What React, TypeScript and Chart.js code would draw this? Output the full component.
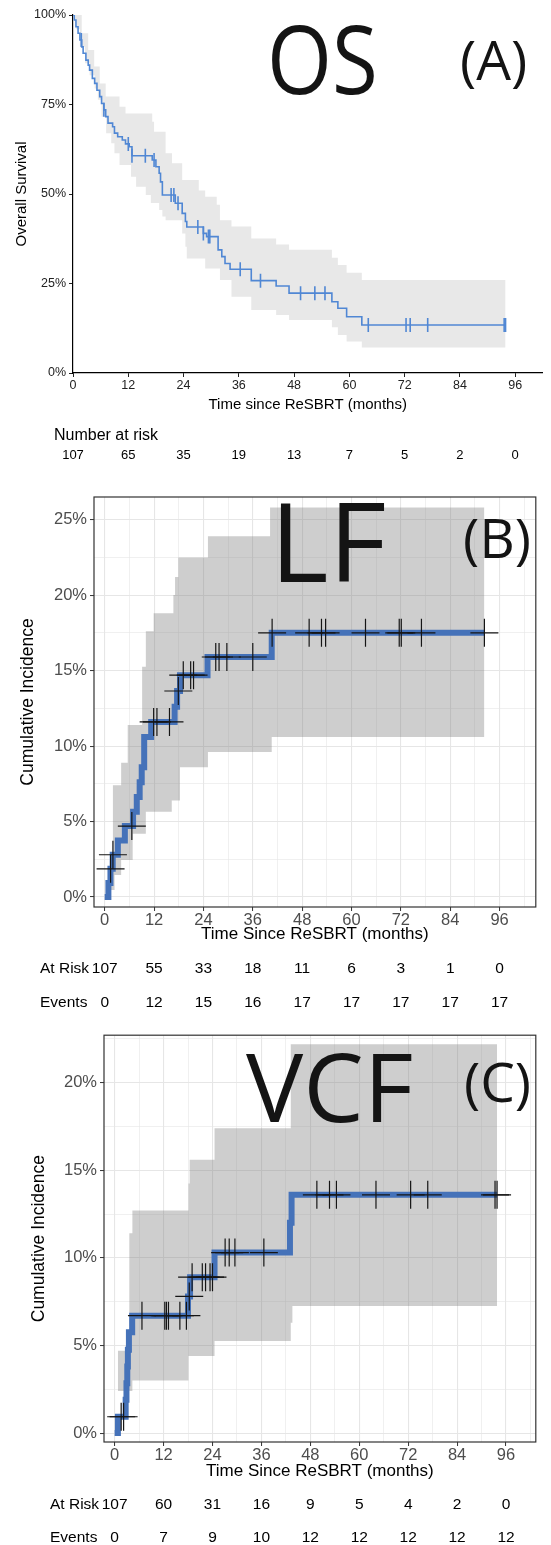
import React, { useEffect, useRef } from 'react';
import { Chart, registerables } from 'chart.js';

Chart.register(...registerables);
Chart.defaults.font.family = "'Liberation Sans', Arial, Helvetica, sans-serif";

// ================= DATA =================
// shared axis breaks
const monthTicks = [0, 12, 24, 36, 48, 60, 72, 84, 96];
const monthGrid = [0, 6, 12, 18, 24, 30, 36, 42, 48, 54, 60, 66, 72, 78, 84, 90, 96, 102];

// ---- Panel A: overall survival (Kaplan-Meier) ----
const osTime = [0, 0.3, 0.64, 1.1, 1.5, 1.9, 2.2, 2.8, 3.3, 3.6, 4.2, 4.7, 5.2, 5.8, 6.2, 6.7, 7.1, 7.6, 8.6, 9.0, 9.7, 10.7, 11.4, 12.2, 12.8, 17.2, 18.0, 18.7, 19.0, 19.4, 22.2, 23.7, 24.4, 24.7, 28.3, 29.0, 31.5, 32.3, 33.0, 34.1, 38.7, 44.1, 46.9, 56.2, 57.5, 59.4, 62.7, 93.9];
const osSurv = [1.0, 0.986, 0.967, 0.949, 0.93, 0.911, 0.893, 0.874, 0.86, 0.846, 0.823, 0.809, 0.79, 0.772, 0.753, 0.735, 0.716, 0.698, 0.688, 0.67, 0.66, 0.651, 0.64, 0.632, 0.607, 0.595, 0.576, 0.558, 0.534, 0.497, 0.474, 0.446, 0.423, 0.408, 0.39, 0.381, 0.344, 0.325, 0.306, 0.29, 0.258, 0.243, 0.223, 0.199, 0.181, 0.157, 0.134, 0.134];
const osCensT = [1.8, 6.7, 12.0, 12.8, 15.7, 17.6, 21.3, 21.9, 22.8, 27.1, 28.3, 29.4, 29.7, 36.3, 40.7, 49.4, 52.5, 54.7, 64.1, 72.3, 73.2, 77.0, 93.6, 93.9];
const osUpT = [0, 1.9, 3.3, 4.6, 5.8, 7.1, 10.1, 11.4, 17.2, 17.6, 20.1, 21.5, 23.7, 27.3, 28.7, 31.2, 31.9, 34.4, 38.7, 44.1, 46.9, 56.2, 57.5, 59.4, 62.7, 93.9];
const osUp = [1.0, 0.949, 0.902, 0.856, 0.809, 0.772, 0.744, 0.725, 0.702, 0.674, 0.614, 0.586, 0.539, 0.51, 0.492, 0.47, 0.427, 0.409, 0.376, 0.359, 0.344, 0.322, 0.302, 0.28, 0.26, 0.26];
const osLoT = [0, 0.6, 1.5, 2.6, 3.6, 4.7, 5.4, 6.2, 7.2, 8.3, 9.0, 10.1, 12.6, 13.7, 15.8, 16.9, 18.7, 19.4, 20.1, 23.7, 24.4, 24.7, 28.7, 31.9, 34.4, 38.7, 44.1, 46.9, 56.2, 57.5, 59.4, 62.7, 93.9];
const osLo = [1.0, 0.96, 0.911, 0.865, 0.832, 0.795, 0.763, 0.716, 0.67, 0.642, 0.614, 0.581, 0.548, 0.52, 0.497, 0.475, 0.455, 0.437, 0.427, 0.39, 0.353, 0.32, 0.292, 0.26, 0.213, 0.176, 0.162, 0.148, 0.128, 0.106, 0.088, 0.071, 0.071];
const osPctTicks = [0, 0.25, 0.5, 0.75, 1];
const osRisk = [107, 65, 35, 19, 13, 7, 5, 2, 0];

// ---- Panel B: local failure (cumulative incidence, %) ----
const lfTime = [0, 0.9, 1.4, 1.95, 3.2, 4.9, 6.9, 7.8, 8.5, 9.0, 9.6, 11.3, 17.0, 17.6, 18.3, 25.0, 40.6, 92.3];
const lfInc = [0, 0.93, 1.87, 2.8, 3.74, 4.7, 5.65, 6.62, 7.6, 8.6, 10.6, 11.6, 12.6, 13.65, 14.7, 15.9, 17.5, 17.5];
const lfCensT = [1.43, 2.0, 6.6, 11.9, 12.7, 15.75, 17.9, 19.1, 20.9, 21.6, 27.0, 27.8, 29.7, 36.0, 40.7, 49.7, 52.7, 53.7, 63.4, 71.6, 72.1, 77.0, 92.3];
const lfUpT = [1.2, 2.0, 4.0, 5.6, 9.1, 10.0, 11.9, 16.7, 17.1, 17.9, 25.1, 40.2, 92.3];
const lfUp = [2.4, 7.4, 8.9, 11.4, 15.25, 17.6, 18.8, 20.0, 21.2, 22.5, 23.9, 25.8, 25.8];
const lfLoT = [1.2, 2.4, 4.0, 6.8, 10.0, 16.3, 18.3, 25.1, 40.6, 92.3];
const lfLo = [0.46, 1.46, 2.45, 4.2, 5.65, 6.4, 8.6, 9.6, 10.6, 10.6];
const lfPctTicks = [0, 5, 10, 15, 20, 25];
const lfPctGrid = [0, 2.5, 5, 7.5, 10, 12.5, 15, 17.5, 20, 22.5, 25];
const lfAtRisk = [107, 55, 33, 18, 11, 6, 3, 1, 0];
const lfEvents = [0, 12, 15, 16, 17, 17, 17, 17, 17];

// ---- Panel C: vertebral compression fracture (cumulative incidence, %) ----
const vcfTime = [0, 0.8, 2.7, 2.9, 3.1, 3.25, 3.5, 4.3, 18.0, 18.5, 24.5, 43.0, 43.4, 93.8];
const vcfInc = [0, 0.93, 1.9, 2.85, 3.8, 4.75, 5.75, 6.7, 7.8, 8.9, 10.3, 12.0, 13.6, 13.6];
const vcfCensT = [1.6, 2.2, 6.7, 12.3, 12.7, 13.2, 16.0, 17.6, 18.3, 19.0, 21.5, 22.3, 23.4, 24.0, 27.1, 28.1, 29.5, 36.6, 49.6, 52.7, 54.4, 64.1, 72.6, 76.8, 93.3, 93.8];
const vcfUpT = [0.8, 3.6, 4.35, 18.1, 18.4, 24.5, 43.2, 93.8];
const vcfUp = [4.7, 11.4, 12.7, 14.25, 15.6, 17.4, 22.2, 22.2];
const vcfLoT = [0.8, 4.35, 18.1, 24.5, 43.2, 43.6, 93.8];
const vcfLo = [2.4, 3.0, 4.4, 5.25, 6.3, 7.25, 7.25];
const vcfPctTicks = [0, 5, 10, 15, 20];
const vcfPctGrid = [0, 2.5, 5, 7.5, 10, 12.5, 15, 17.5, 20, 22.5];
const vcfAtRisk = [107, 60, 31, 16, 9, 5, 4, 2, 0];
const vcfEvents = [0, 7, 9, 10, 12, 12, 12, 12, 12];

// ================= HELPERS =================
type XY = { x: number; y: number };

function stepAt(ts: number[], vs: number[], t: number): number {
  let v = vs[0];
  for (let i = 0; i < ts.length; i++) if (ts[i] <= t) v = vs[i];
  return v;
}
function toXY(ts: number[], vs: number[]): XY[] {
  return ts.map((t, i) => ({ x: t, y: vs[i] }));
}
function bandXY(upT: number[], up: number[], loT: number[], lo: number[]) {
  const ts = Array.from(new Set([...upT, ...loT])).sort((a, b) => a - b);
  return {
    upper: ts.map((t) => ({ x: t, y: stepAt(upT, up, t) })),
    lower: ts.map((t) => ({ x: t, y: stepAt(loT, lo, t) })),
  };
}

const OS_BLUE = '#5087d4';
const CI_BLUE = '#4572b9';
const CLEAR = 'rgba(0,0,0,0)';

type RiskRow = { label: string; values: number[]; y: number; size: number };

function riskPlugin(rows: RiskRow[], times: number[], labelX: number) {
  return {
    id: 'riskTable',
    afterDraw(chart: any) {
      const ctx = chart.ctx;
      const xs = chart.scales.x;
      ctx.save();
      ctx.fillStyle = '#000';
      ctx.textBaseline = 'middle';
      rows.forEach((r) => {
        ctx.font = `${r.size}px 'Liberation Sans', Arial, sans-serif`;
        if (r.label) {
          ctx.textAlign = 'left';
          ctx.fillText(r.label, labelX, r.y);
        }
        ctx.textAlign = 'center';
        r.values.forEach((v, i) => ctx.fillText(String(v), xs.getPixelForValue(times[i]), r.y));
      });
      ctx.restore();
    },
  };
}

const panelBorder = {
  id: 'panelBorder',
  afterDatasetsDraw(chart: any) {
    const { ctx, chartArea } = chart;
    ctx.save();
    ctx.strokeStyle = '#333333';
    ctx.lineWidth = 1.2;
    ctx.strokeRect(chartArea.left, chartArea.top, chartArea.right - chartArea.left, chartArea.bottom - chartArea.top);
    ctx.restore();
  },
};

// ================= CONFIGS =================
function buildOS(): any {
  const band = bandXY(osUpT, osUp, osLoT, osLo);
  const censor = osCensT.map((t) => ({ x: t, y: stepAt(osTime, osSurv, t) }));
  return {
    type: 'line',
    data: {
      datasets: [
        { data: band.upper, stepped: true, borderWidth: 0, borderColor: CLEAR, pointRadius: 0, fill: '+1', backgroundColor: '#e8e8e8', order: 3 },
        { data: band.lower, stepped: true, borderWidth: 0, borderColor: CLEAR, pointRadius: 0, fill: false, order: 4 },
        { data: toXY(osTime, osSurv), stepped: true, borderColor: OS_BLUE, borderWidth: 1.6, pointRadius: 0, fill: false, order: 1 },
        { data: censor, showLine: false, pointStyle: 'line', pointRotation: 90, pointRadius: 7, pointBorderColor: OS_BLUE, pointBorderWidth: 1.6, borderColor: OS_BLUE, order: 0 },
      ],
    },
    options: {
      responsive: false,
      animation: false,
      events: [],
      layout: { padding: { top: 15, right: 3, bottom: 50, left: 0 } },
      plugins: { legend: { display: false }, tooltip: { enabled: false } },
      scales: {
        x: {
          type: 'linear', min: 0, max: 101.9,
          afterBuildTicks: (s: any) => { s.ticks = monthTicks.map((v) => ({ value: v })); },
          afterFit: (s: any) => { s.height = 47; },
          ticks: { autoSkip: false, maxRotation: 0, color: '#222', font: { size: 12.5 }, padding: 1 },
          grid: { drawOnChartArea: false, drawTicks: true, tickLength: 4, tickColor: '#222', tickWidth: 1 },
          border: { display: true, color: '#000', width: 1.2 },
          title: { display: true, text: 'Time since ReSBRT (months)', color: '#000', font: { size: 15 }, padding: { top: 0, bottom: 6 } },
        },
        y: {
          type: 'linear', min: 0, max: 1,
          afterBuildTicks: (s: any) => { s.ticks = osPctTicks.map((v) => ({ value: v })); },
          afterFit: (s: any) => { s.width = 73; },
          ticks: { color: '#222', font: { size: 12.5 }, padding: 3, callback: (v: number) => Math.round(v * 100) + '%' },
          grid: { drawOnChartArea: false, drawTicks: true, tickLength: 4, tickColor: '#222', tickWidth: 1 },
          border: { display: true, color: '#000', width: 1.2 },
          title: { display: true, text: 'Overall Survival', color: '#000', font: { size: 15 }, padding: { top: 13, bottom: 0 } },
        },
      },
    },
    plugins: [
      riskPlugin(
        [
          { label: 'Number at risk', values: [], y: 436, size: 16 },
          { label: '', values: osRisk, y: 455, size: 13 },
        ],
        monthTicks,
        54,
      ),
    ],
  };
}

type CIParams = {
  time: number[]; inc: number[]; censT: number[];
  upT: number[]; up: number[]; loT: number[]; lo: number[];
  yMin: number; yMax: number; xMin: number; xMax: number;
  yTicks: number[]; yGrid: number[];
  padding: any; yWidth: number; xHeight: number;
  yTitlePad: number; xTitlePad: number;
  atRisk: number[]; events: number[]; rowY: number[]; labelX: number;
};

function buildCI(p: CIParams): any {
  const band = bandXY(p.upT, p.up, p.loT, p.lo);
  const censor = p.censT.map((t) => ({ x: t, y: stepAt(p.time, p.inc, t) }));
  const majorX = new Set(monthTicks);
  const majorY = new Set(p.yTicks);
  return {
    type: 'line',
    data: {
      datasets: [
        { data: band.upper, stepped: true, borderWidth: 0, borderColor: CLEAR, pointRadius: 0, fill: '+1', backgroundColor: 'rgba(125,125,125,0.38)', order: 3 },
        { data: band.lower, stepped: true, borderWidth: 0, borderColor: CLEAR, pointRadius: 0, fill: false, order: 4 },
        { data: toXY(p.time, p.inc), stepped: true, borderColor: CI_BLUE, borderWidth: 6, borderJoinStyle: 'miter', pointRadius: 0, fill: false, order: 1 },
        { data: censor, showLine: false, pointStyle: 'cross', pointRadius: 14, pointBorderColor: '#151515', pointBorderWidth: 1.2, borderColor: '#151515', order: 0 },
      ],
    },
    options: {
      responsive: false,
      animation: false,
      events: [],
      layout: { padding: p.padding },
      plugins: { legend: { display: false }, tooltip: { enabled: false } },
      scales: {
        x: {
          type: 'linear', min: p.xMin, max: p.xMax,
          afterBuildTicks: (s: any) => { s.ticks = monthGrid.map((v) => ({ value: v })); },
          afterFit: (s: any) => { s.height = p.xHeight; },
          ticks: { autoSkip: false, maxRotation: 0, color: '#4d4d4d', font: { size: 16.5 }, padding: 0, callback: (v: number) => (majorX.has(v) ? String(v) : '') },
          grid: {
            color: '#e6e6e6',
            lineWidth: (c: any) => (c.tick && majorX.has(c.tick.value) ? 1.1 : 0.6),
            drawTicks: true, tickLength: 4,
            tickColor: (c: any) => (c.tick && majorX.has(c.tick.value) ? '#333' : CLEAR),
            tickWidth: 1,
          },
          border: { display: false },
          title: { display: true, text: 'Time Since ReSBRT (months)', color: '#000', font: { size: 17 }, padding: { top: 0, bottom: p.xTitlePad } },
        },
        y: {
          type: 'linear', min: p.yMin, max: p.yMax,
          afterBuildTicks: (s: any) => { s.ticks = p.yGrid.map((v) => ({ value: v })); },
          afterFit: (s: any) => { s.width = p.yWidth; },
          ticks: { autoSkip: false, color: '#4d4d4d', font: { size: 16.5 }, padding: 3, callback: (v: number) => (majorY.has(v) ? v + '%' : '') },
          grid: {
            color: '#e6e6e6',
            lineWidth: (c: any) => (c.tick && majorY.has(c.tick.value) ? 1.1 : 0.6),
            drawTicks: true, tickLength: 4,
            tickColor: (c: any) => (c.tick && majorY.has(c.tick.value) ? '#333' : CLEAR),
            tickWidth: 1,
          },
          border: { display: false },
          title: { display: true, text: 'Cumulative Incidence', color: '#000', font: { size: 17.5 }, padding: { top: p.yTitlePad, bottom: 0 } },
        },
      },
    },
    plugins: [
      panelBorder,
      riskPlugin(
        [
          { label: 'At Risk', values: p.atRisk, y: p.rowY[0], size: 15.5 },
          { label: 'Events', values: p.events, y: p.rowY[1], size: 15.5 },
        ],
        monthTicks,
        p.labelX,
      ),
    ],
  };
}

function buildLF(): any {
  return buildCI({
    time: lfTime, inc: lfInc, censT: lfCensT,
    upT: lfUpT, up: lfUp, loT: lfLoT, lo: lfLo,
    yMin: -0.66, yMax: 26.5, xMin: -2.6, xMax: 104.8,
    yTicks: lfPctTicks, yGrid: lfPctGrid,
    padding: { top: 27, right: 7, bottom: 73, left: 0 }, yWidth: 94, xHeight: 40,
    yTitlePad: 18, xTitlePad: 2,
    atRisk: lfAtRisk, events: lfEvents, rowY: [499, 533], labelX: 40,
  });
}

function buildVCF(): any {
  return buildCI({
    time: vcfTime, inc: vcfInc, censT: vcfCensT,
    upT: vcfUpT, up: vcfUp, loT: vcfLoT, lo: vcfLo,
    yMin: -0.51, yMax: 22.71, xMin: -2.61, xMax: 103.3,
    yTicks: vcfPctTicks, yGrid: vcfPctGrid,
    padding: { top: 12, right: 1, bottom: 63, left: 0 }, yWidth: 104, xHeight: 40,
    yTitlePad: 28.5, xTitlePad: 0,
    atRisk: vcfAtRisk, events: vcfEvents, rowY: [485, 518], labelX: 50,
  });
}

// ================= COMPONENTS =================
function ChartPanel({ build, top, height }: { build: () => any; top: number; height: number }) {
  const ref = useRef<HTMLCanvasElement>(null);
  useEffect(() => {
    const chart = new Chart(ref.current as HTMLCanvasElement, build());
    return () => chart.destroy();
  }, []);
  return (
    <div style={{ position: 'absolute', left: 0, top, width: 551, height }}>
      <canvas ref={ref} width={551} height={height} style={{ width: 551, height, display: 'block' }} />
    </div>
  );
}

function BigText({ text, left, top, size, sx }: { text: string; left: number; top: number; size: number; sx: number }) {
  return (
    <div
      style={{
        position: 'absolute', left, top, fontFamily: "'Open Sans', 'Noto Sans', sans-serif",
        fontSize: size, lineHeight: `${size}px`, color: '#141414', whiteSpace: 'nowrap',
        transform: `scaleX(${sx})`, transformOrigin: 'left top',
      }}
    >
      {text}
    </div>
  );
}

export default function App() {
  return (
    <div style={{ position: 'absolute', left: 0, top: 0, width: 551, height: 1545, background: '#fff', overflow: 'hidden' }}>
      <ChartPanel build={buildOS} top={0} height={470} />
      <ChartPanel build={buildLF} top={470} height={550} />
      <ChartPanel build={buildVCF} top={1020} height={525} />
      <BigText text="OS" left={267} top={9} size={96} sx={0.87} />
      <BigText text="(A)" left={460} top={31} size={55} sx={1} />
      <BigText text="LF" left={270} top={484} size={110} sx={1.02} />
      <BigText text="(B)" left={463} top={509} size={55} sx={1} />
      <BigText text="VCF" left={246} top={1037} size={96} sx={1} />
      <BigText text="(C)" left={464} top={1053} size={55} sx={1} />
    </div>
  );
}
